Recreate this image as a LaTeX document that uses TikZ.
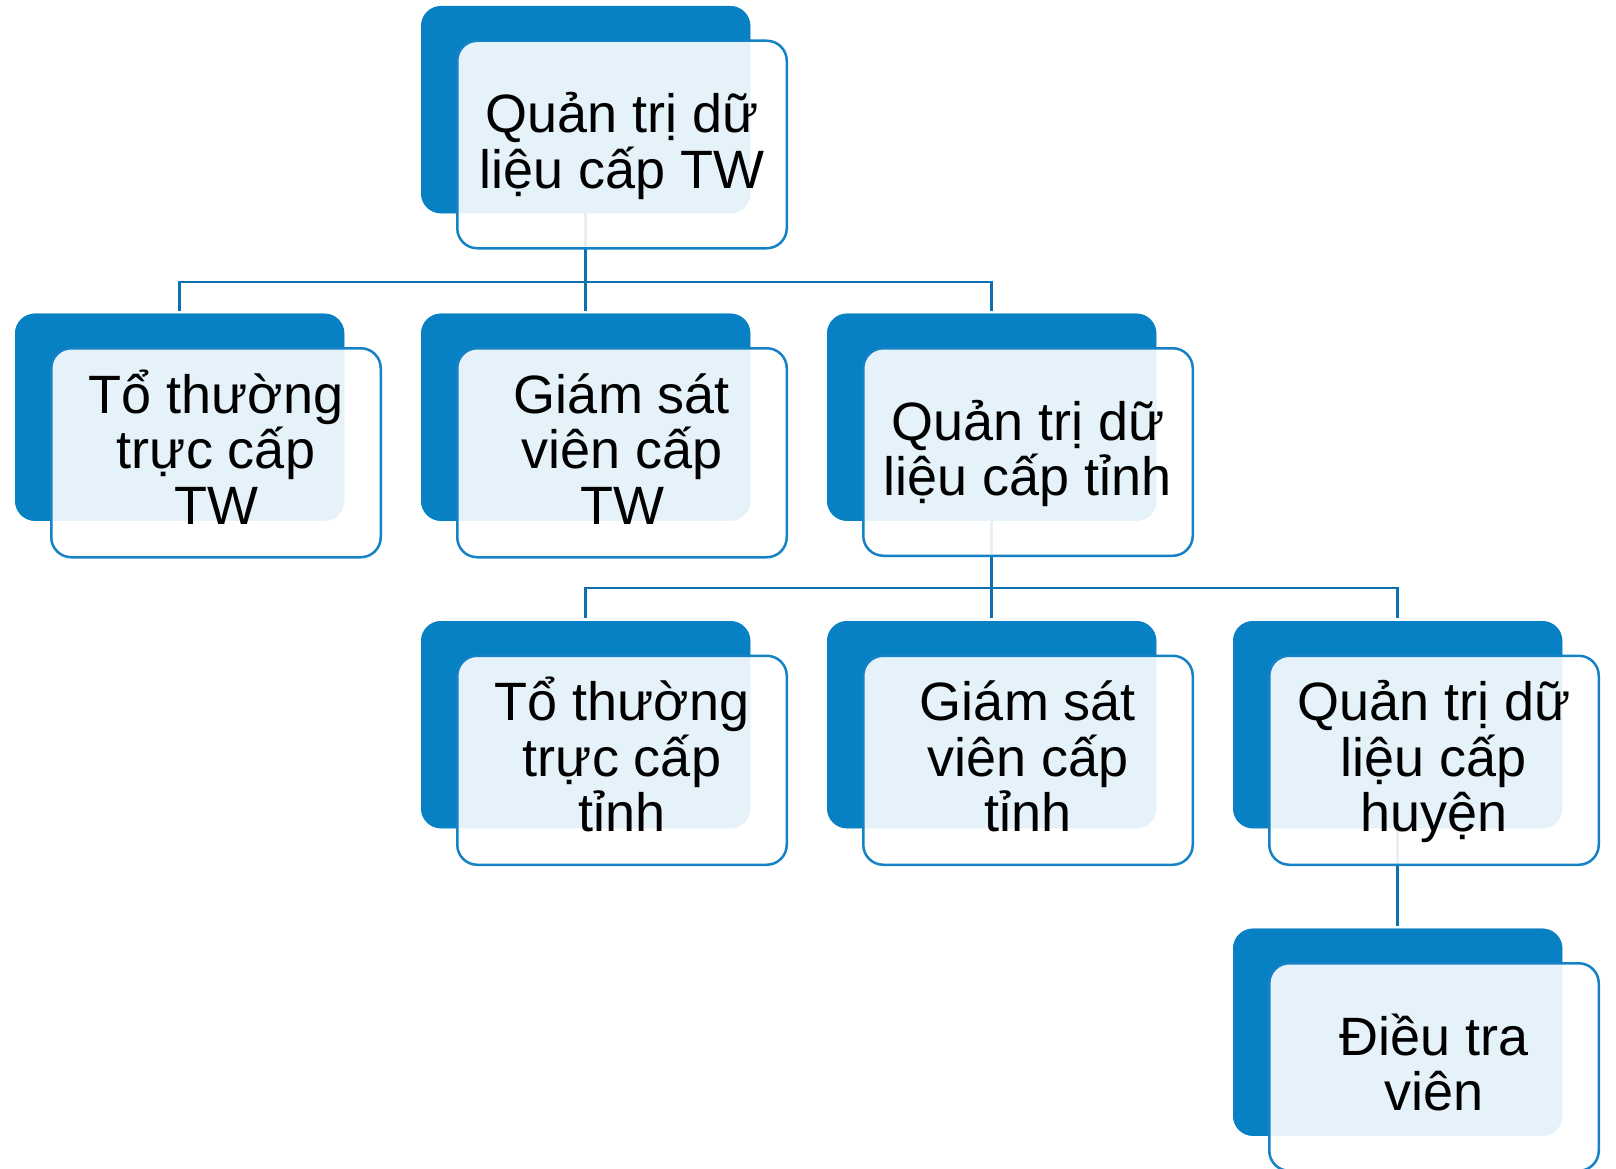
\documentclass[tikz,border=0pt]{standalone}
\usepackage{fontspec}
\setmainfont{Liberation Sans}
\definecolor{boxblue}{RGB}{8,128,196}
\definecolor{edgeblue}{RGB}{22,130,198}
\definecolor{linkblue}{RGB}{14,112,176}
% fixed struts on the first and last lines so every label sits at the same height
\newcommand{\cardtext}[1]{\rule{0pt}{65pt}#1\rule[-33pt]{0pt}{33pt}}
\begin{document}
\begin{tikzpicture}[x=1pt,y=1pt,
  backbox/.style={draw=none, fill=boxblue, rounded corners=20pt,
    minimum width=329pt, minimum height=207pt, inner sep=0pt, anchor=north west},
  frontbox/.style={draw=edgeblue, line width=2.5pt, fill=white, fill opacity=0.9,
    text opacity=1, rounded corners=20pt, minimum width=329.5pt, minimum height=207.5pt,
    inner sep=0pt, anchor=north west, align=center,
    font=\fontsize{54}{55.5}\selectfont},
  conn/.style={draw=linkblue, line width=2.8pt}]
\useasboundingbox (0,0) rectangle (1616,-1169);

% bus levels between tiers
\coordinate (bus1) at (0,-282);
\coordinate (bus2) at (0,-588);

% back plates
\node[backbox] (b0) at (421,-6) {};
\node[backbox] (b1) at (15,-313.5) {};
\node[backbox] (b2) at (421,-313.5) {};
\node[backbox] (b3) at (827,-313.5) {};
\node[backbox] (b4) at (421,-621) {};
\node[backbox] (b5) at (827,-621) {};
\node[backbox] (b6) at (1233,-621) {};
\node[backbox] (b7) at (1233,-928.5) {};

% connectors
\draw[conn] (b0.center) -- (b0.center |- bus1) -| ([yshift=3pt]b1.north);
\draw[conn] (b0.center |- bus1) -- ([yshift=3pt]b2.north);
\draw[conn] (b0.center |- bus1) -| ([yshift=3pt]b3.north);
\draw[conn] (b3.center) -- (b3.center |- bus2) -| ([yshift=3pt]b4.north);
\draw[conn] (b3.center |- bus2) -- ([yshift=3pt]b5.north);
\draw[conn] (b3.center |- bus2) -| ([yshift=3pt]b6.north);
\draw[conn] (b6.center) -- ([yshift=3pt]b7.north);

% plates redrawn over the connector starts
\foreach \n in {b0,b1,b2,b3,b4,b5,b6,b7}
  \fill[boxblue, rounded corners=20pt] (\n.north west) rectangle (\n.south east);

% front cards with the labels
\node[frontbox] (f0) at (456,-39.5) {\cardtext{Quản trị dữ\\liệu cấp TW}};
\node[frontbox] (f1) at (50,-347) {\cardtext{Tổ thường\\trực cấp\\TW}};
\node[frontbox] (f2) at (456,-347) {\cardtext{Giám sát\\viên cấp\\TW}};
\node[frontbox] (f3) at (862,-347) {\cardtext{Quản trị dữ\\liệu cấp tỉnh}};
\node[frontbox] (f4) at (456,-654.5) {\cardtext{Tổ thường\\trực cấp\\tỉnh}};
\node[frontbox] (f5) at (862,-654.5) {\cardtext{Giám sát\\viên cấp\\tỉnh}};
\node[frontbox] (f6) at (1268,-654.5) {\cardtext{Quản trị dữ\\liệu cấp\\huyện}};
\node[frontbox] (f7) at (1268,-962) {\cardtext{Điều tra\\viên}};
\end{tikzpicture}
\end{document}
